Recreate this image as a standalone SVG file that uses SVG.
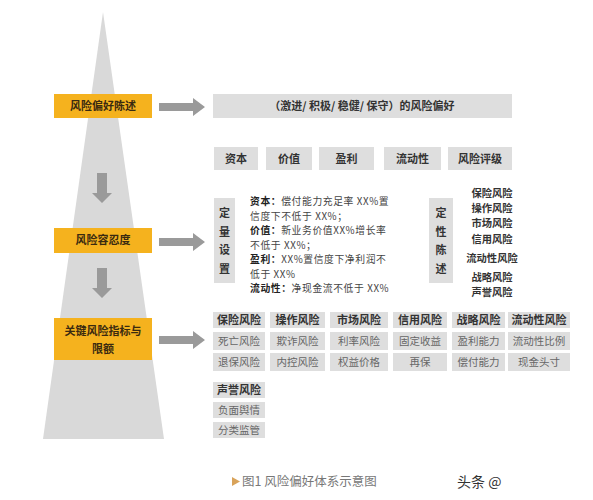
<svg xmlns="http://www.w3.org/2000/svg" width="593" height="500" viewBox="0 0 593 500">
<style>
text{font-family:"Noto Sans CJK SC","Liberation Sans",sans-serif;}
.ob{fill:#f5b21e;}
.ot{font-size:11px;font-weight:bold;fill:#3a2a10;text-anchor:middle;}
.gb{fill:#dedede;}
.gt{font-size:11px;font-weight:bold;fill:#333;text-anchor:middle;}
.ct{font-size:10.5px;fill:#666;text-anchor:middle;}
.bt{font-size:9.8px;fill:#444;letter-spacing:0.6px;}
.bk{font-weight:bold;fill:#222;}
.arr{fill:#9a9a9a;}
.lt{font-size:10.3px;font-weight:bold;fill:#333;text-anchor:middle;}
</style>
<rect width="593" height="500" fill="#fff"/>
<polygon points="103,12 164,439 43,439" fill="#d9d9d9"/>

<g id="connectors">
<polygon class="arr" points="159,103 193,103 193,98 205,107 193,116 193,111 159,111"/>
<polygon class="arr" points="159,238 193,238 193,233 205,242 193,251 193,246 159,246"/>
<polygon class="arr" points="159,336 193,336 193,331 205,340 193,349 193,344 159,344"/>
<polygon class="arr" points="97,173 107,173 107,193 112,193 102,203 92,193 97,193"/>
<polygon class="arr" points="97,268 107,268 107,288 112,288 102,298 92,288 97,288"/>
</g>

<g id="node-statement">
<rect class="ob" x="54" y="94" width="98" height="24"/>
<text class="ot" x="103" y="110">风险偏好陈述</text>
</g>
<g id="node-tolerance">
<rect class="ob" x="54" y="228" width="98" height="25"/>
<text class="ot" x="103" y="244">风险容忍度</text>
</g>
<g id="node-kri">
<rect class="ob" x="54" y="318" width="98" height="42"/>
<text class="ot" x="103" y="335">关键风险指标与</text>
<text class="ot" x="103" y="353">限额</text>
</g>

<g id="node-appetite">
<rect class="gb" x="213" y="94" width="299" height="24"/>
<text class="gt" x="362" y="110">（激进/ 积极/ 稳健/ 保守）的风险偏好</text>
</g>

<g id="node-dims">
<rect class="gb" x="214" y="147" width="44" height="23"/><text class="gt" x="236" y="163">资本</text>
<rect class="gb" x="266" y="147" width="46" height="23"/><text class="gt" x="289" y="163">价值</text>
<rect class="gb" x="319" y="147" width="55" height="23"/><text class="gt" x="346.5" y="163">盈利</text>
<rect class="gb" x="384" y="147" width="57" height="23"/><text class="gt" x="412.5" y="163">流动性</text>
<rect class="gb" x="448" y="147" width="64" height="23"/><text class="gt" x="480" y="163">风险评级</text>
</g>

<g id="node-quant">
<rect class="gb" x="214" y="198" width="21" height="85"/>
<text class="gt" x="224.5" y="217">定</text>
<text class="gt" x="224.5" y="236">量</text>
<text class="gt" x="224.5" y="254">设</text>
<text class="gt" x="224.5" y="273">置</text>
<text class="bt" x="250" y="205"><tspan class="bk">资本：</tspan>偿付能力充足率 XX%置</text>
<text class="bt" x="250" y="219.5">信度下不低于 XX%；</text>
<text class="bt" x="250" y="234"><tspan class="bk">价值：</tspan>新业务价值XX%增长率</text>
<text class="bt" x="250" y="248.5">不低于 XX%；</text>
<text class="bt" x="250" y="263"><tspan class="bk">盈利：</tspan>XX%置信度下净利润不</text>
<text class="bt" x="250" y="277.5">低于 XX%</text>
<text class="bt" x="250" y="292"><tspan class="bk">流动性：</tspan>净现金流不低于 XX%</text>
</g>

<g id="node-qual">
<rect class="gb" x="429" y="198" width="24" height="85"/>
<text class="gt" x="441" y="217">定</text>
<text class="gt" x="441" y="236">性</text>
<text class="gt" x="441" y="254">陈</text>
<text class="gt" x="441" y="273">述</text>
<text class="lt" x="492" y="197">保险风险</text>
<text class="lt" x="492" y="212">操作风险</text>
<text class="lt" x="492" y="227">市场风险</text>
<text class="lt" x="492" y="243">信用风险</text>
<text class="lt" x="492" y="262">流动性风险</text>
<text class="lt" x="492" y="281">战略风险</text>
<text class="lt" x="492" y="296">声誉风险</text>
</g>

<g id="node-grid">
<rect class="gb" x="213" y="312" width="52" height="16"/><text class="gt" x="239" y="324">保险风险</text>
<rect class="gb" x="270" y="312" width="55" height="16"/><text class="gt" x="297.5" y="324">操作风险</text>
<rect class="gb" x="330" y="312" width="58" height="16"/><text class="gt" x="359" y="324">市场风险</text>
<rect class="gb" x="393" y="312" width="54" height="16"/><text class="gt" x="420" y="324">信用风险</text>
<rect class="gb" x="452" y="312" width="53" height="16"/><text class="gt" x="478.5" y="324">战略风险</text>
<rect class="gb" x="508" y="312" width="62" height="16"/><text class="gt" x="539" y="324">流动性风险</text>

<rect class="gb" x="213" y="332" width="52" height="18"/><text class="ct" x="239" y="345">死亡风险</text>
<rect class="gb" x="270" y="332" width="55" height="18"/><text class="ct" x="297.5" y="345">欺诈风险</text>
<rect class="gb" x="330" y="332" width="58" height="18"/><text class="ct" x="359" y="345">利率风险</text>
<rect class="gb" x="393" y="332" width="54" height="18"/><text class="ct" x="420" y="345">固定收益</text>
<rect class="gb" x="452" y="332" width="53" height="18"/><text class="ct" x="478.5" y="345">盈利能力</text>
<rect class="gb" x="508" y="332" width="62" height="18"/><text class="ct" x="539" y="345">流动性比例</text>

<rect class="gb" x="213" y="353" width="52" height="18"/><text class="ct" x="239" y="366">退保风险</text>
<rect class="gb" x="270" y="353" width="55" height="18"/><text class="ct" x="297.5" y="366">内控风险</text>
<rect class="gb" x="330" y="353" width="58" height="18"/><text class="ct" x="359" y="366">权益价格</text>
<rect class="gb" x="393" y="353" width="54" height="18"/><text class="ct" x="420" y="366">再保</text>
<rect class="gb" x="452" y="353" width="53" height="18"/><text class="ct" x="478.5" y="366">偿付能力</text>
<rect class="gb" x="508" y="353" width="62" height="18"/><text class="ct" x="539" y="366">现金头寸</text>

<rect class="gb" x="213" y="382" width="52" height="16"/><text class="gt" x="239" y="394">声誉风险</text>
<rect class="gb" x="213" y="402" width="52" height="16"/><text class="ct" x="239" y="414">负面舆情</text>
<rect class="gb" x="213" y="422" width="52" height="16"/><text class="ct" x="239" y="434">分类监管</text>
</g>

<g id="caption">
<polygon points="232,477 240,481.5 232,486" fill="#d9a35a"/>
<text x="242" y="486" style="font-size:12.5px;fill:#777;">图1  风险偏好体系示意图</text>
<text x="457" y="487" style="font-size:14px;fill:#333;">头条 @</text>
</g>
</svg>
